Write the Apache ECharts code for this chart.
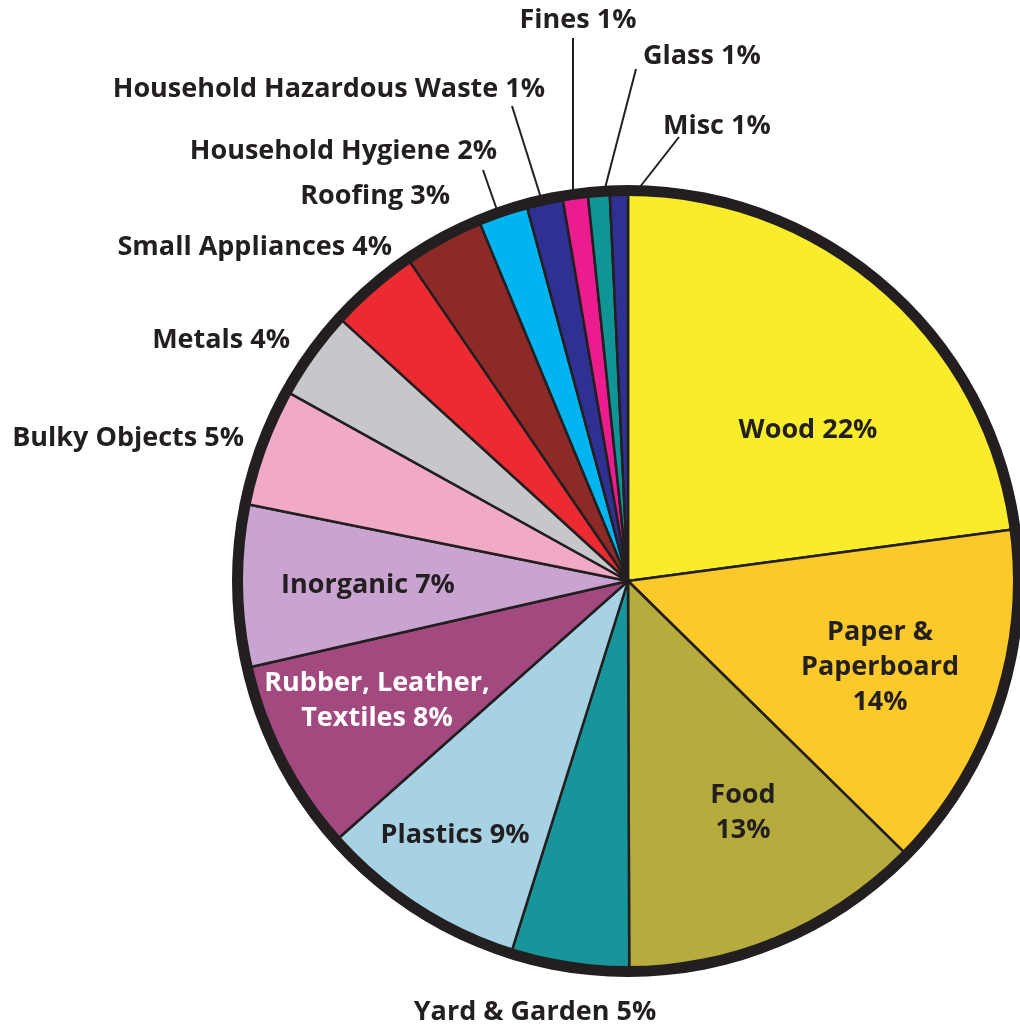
<!DOCTYPE html>
<html>
<head>
<meta charset="utf-8">
<script src="https://cdn.jsdelivr.net/npm/echarts@6/dist/echarts.min.js"></script>
<style>
html,body{margin:0;padding:0;background:#fff;}
#chart{width:1020px;height:1026px;}
</style>
</head>
<body>
<div id="chart"></div>
<script>
// ---- data ----
const categories = ['Wood','Paper & Paperboard','Food','Yard & Garden','Plastics','Rubber, Leather, Textiles','Inorganic','Bulky Objects','Metals','Small Appliances','Roofing','Household Hygiene','Household Hazardous Waste','Fines','Glass','Misc'];
const shares = [22.9, 14.5, 12.6, 4.9, 8.6, 8.0, 6.75, 4.9, 3.7, 3.7, 3.3, 2.05, 1.5, 1.05, 0.9, 0.75];
const pctLabels = ['22%','14%','13%','5%','9%','8%','7%','5%','4%','4%','3%','2%','1%','1%','1%','1%'];
const labelTexts = ['Wood 22%','Paper &\nPaperboard\n14%','Food\n13%','Yard & Garden 5%','Plastics 9%','Rubber, Leather,\nTextiles 8%','Inorganic 7%','Bulky Objects 5%','Metals 4%','Small Appliances 4%','Roofing 3%','Household Hygiene 2%','Household Hazardous Waste 1%','Fines 1%','Glass 1%','Misc 1%'];

// ---- styles / layout ----
const colors = ['#f8ec2b','#fcc92b','#b6ab3d','#17959a','#a7d2e3','#a24a80','#c9a4d0','#f0a9c6','#c5c7ca','#ec2a32','#8d2a27','#00b5ef','#2e3191','#ec1c8e','#0f9595','#2e3191'];
const labelLayoutCfg = [
  {x:808, y:430, align:'center'},
  {x:880, y:667, align:'center'},
  {x:743, y:813, align:'center'},
  {x:535, y:1012, align:'center'},
  {x:455, y:835, align:'center'},
  {x:377, y:701, align:'center', color:'#ffffff'},
  {x:368, y:585, align:'center'},
  {x:244, y:438, align:'right'},
  {x:290, y:340, align:'right'},
  {x:392, y:247, align:'right'},
  {x:450, y:196, align:'right'},
  {x:497, y:151, align:'right', line:[[483,170],[497,210]]},
  {x:545, y:89, align:'right', line:[[512,106],[541,198]]},
  {x:578, y:20, align:'center', line:[[573,38],[573,192]]},
  {x:643, y:56, align:'left', line:[[636,69],[604,192]]},
  {x:663, y:126, align:'left', line:[[679,137],[636,192]]}
];
const textColor = '#231f20';
const fontFamily = '"Open Sans", "Noto Sans", sans-serif';

const pieData = categories.map((c, i) => {
  const cfg = labelLayoutCfg[i];
  return {
    name: c,
    value: shares[i],
    itemStyle: { color: colors[i] },
    label: { color: cfg.color || textColor },
    labelLine: { show: !!cfg.line }
  };
});

const chart = echarts.init(document.getElementById('chart'), null, {renderer: 'canvas'});
chart.setOption({
  animation: false,
  backgroundColor: '#ffffff',
  series: [
    {
      type: 'pie',
      center: [628, 581],
      radius: [0, 388],
      startAngle: 90,
      clockwise: true,
      avoidLabelOverlap: false,
      silent: true,
      itemStyle: { borderColor: textColor, borderWidth: 2.5 },
      label: {
        show: true,
        position: 'outside',
        formatter: p => labelTexts[p.dataIndex],
        fontFamily: fontFamily,
        fontWeight: 'bold',
        fontSize: 27,
        lineHeight: 35,
        overflow: 'none',
        align: 'center'
      },
      labelLine: { show: false, lineStyle: { color: textColor, width: 2 } },
      labelLayout: function (p) {
        const cfg = labelLayoutCfg[p.dataIndex];
        const out = { x: cfg.x, y: cfg.y, align: cfg.align, verticalAlign: 'middle' };
        if (cfg.line) out.labelLinePoints = cfg.line;
        return out;
      },
      data: pieData
    },
    {
      type: 'pie',
      center: [628, 581],
      radius: [385, 396],
      silent: true,
      label: { show: false },
      labelLine: { show: false },
      itemStyle: { color: textColor, borderWidth: 0 },
      data: [{ value: 1, name: 'outline' }]
    }
  ]
});
</script>
</body>
</html>
